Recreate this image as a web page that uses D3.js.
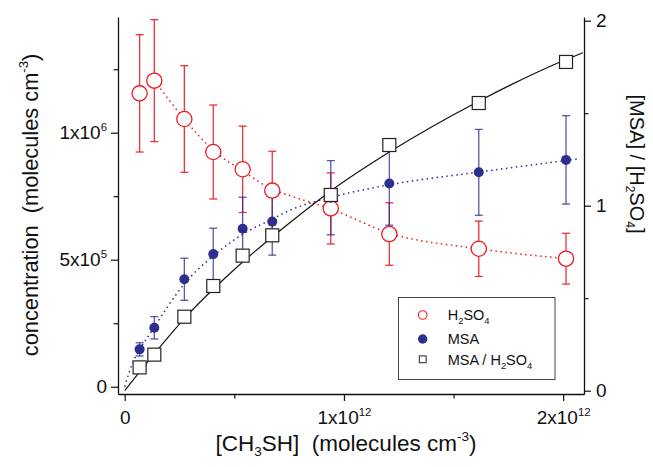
<!DOCTYPE html>
<html><head><meta charset="utf-8">
<script src="https://cdn.jsdelivr.net/npm/d3@7"></script>
<style>
body{margin:0;background:#fff}
svg{display:block}
text{font-family:"Liberation Sans",Arial,Helvetica,sans-serif;fill:#111}
</style>
</head><body>
<svg id="chart" width="653" height="467"></svg>
<script>
// [CH3SH] (molecules cm-3)
const ch3sh = [0.068e12, 0.135e12, 0.272e12, 0.404e12, 0.538e12, 0.673e12, 0.940e12, 1.207e12, 1.615e12, 2.013e12];
// H2SO4 concentration and its uncertainty (molecules cm-3)
const h2so4    = [1.155e6, 1.205e6, 1.054e6, 0.924e6, 0.856e6, 0.772e6, 0.702e6, 0.601e6, 0.543e6, 0.504e6];
const h2so4Err = [0.231e6, 0.240e6, 0.210e6, 0.185e6, 0.170e6, 0.155e6, 0.140e6, 0.123e6, 0.109e6, 0.100e6];
// MSA concentration and its uncertainty (molecules cm-3)
const msa      = [0.147e6, 0.232e6, 0.423e6, 0.522e6, 0.622e6, 0.650e6, 0.744e6, 0.800e6, 0.844e6, 0.893e6];
const msaErr   = [0.026e6, 0.044e6, 0.083e6, 0.102e6, 0.124e6, 0.132e6, 0.146e6, 0.164e6, 0.169e6, 0.174e6];
// [MSA]/[H2SO4]
const ratio    = [0.126, 0.195, 0.400, 0.566, 0.730, 0.840, 1.058, 1.328, 1.555, 1.777];

// fitted curves
const ratioFitX = [0, 0.1e12, 0.272e12, 0.5e12, 0.75e12, 0.94e12, 1.207e12, 1.615e12, 2.013e12, 2.09e12];
const ratioFitY = [0, 0.149, 0.39, 0.655, 0.905, 1.08, 1.29, 1.565, 1.79, 1.827];
const msaFitX   = [0, 0.039e12, 0.068e12, 0.135e12, 0.272e12, 0.404e12, 0.538e12, 0.673e12, 0.754e12, 0.94e12, 1.207e12, 1.615e12, 2.077e12];
const msaFitY   = [0, 0.10e6, 0.145e6, 0.235e6, 0.405e6, 0.515e6, 0.60e6, 0.66e6, 0.695e6, 0.745e6, 0.795e6, 0.845e6, 0.898e6];
const h2so4FitX = [0.135e12, 0.272e12, 0.404e12, 0.538e12, 0.673e12, 0.754e12, 0.94e12, 1.207e12, 1.615e12, 2.013e12];
const h2so4FitY = [1.205e6, 1.054e6, 0.93e6, 0.85e6, 0.777e6, 0.752e6, 0.70e6, 0.605e6, 0.543e6, 0.504e6];

// axis ticks and labels ([base, exponent])
const xTicks = [0, 1e12, 2e12];
const xTickLabels = [["0", ""], ["1x10", "12"], ["2x10", "12"]];
const xMinor = [0.5e12, 1.5e12];
const yTicks = [0, 5e5, 1e6];
const yTickLabels = [["0", ""], ["5x10", "5"], ["1x10", "6"]];
const yMinor = [2.5e5, 7.5e5, 1.25e6];
const rTicks = [0, 1, 2];
const rTickLabels = ["0", "1", "2"];
const rMinor = [0.5, 1.5];

const RED = "#ec1c24", BLUE = "#2d2f8f";

const svg = d3.select("#chart");
const L = 118, R = 584, T = 17, B = 394;

const x = d3.scaleLinear().domain([-0.0306e12, 2.095e12]).range([L, R]);
const y = d3.scaleLinear().domain([-0.0287e6, 1.4555e6]).range([B, T]);
const yr = d3.scaleLinear().domain([-0.0178, 2.020]).range([B, T]);

function styleAxis(g) {
  g.select(".domain").attr("stroke", "#111").attr("stroke-width", 1.3);
  g.selectAll(".tick line").attr("stroke", "#111").attr("stroke-width", 1.2);
  g.selectAll(".tick text").attr("font-size", 19).attr("font-family", null).attr("fill", "#111");
  return g;
}
function minor(axis, tr) {
  const g = svg.append("g").attr("transform", tr)
    .call(axis.tickSize(4.5).tickSizeOuter(0).tickFormat(() => ""));
  g.select(".domain").remove();
  styleAxis(g);
}

// axes
const gx = styleAxis(svg.append("g").attr("transform", `translate(0,${B})`)
  .call(d3.axisBottom(x).tickValues(xTicks).tickSize(7).tickSizeOuter(0).tickPadding(10).tickFormat(() => "")));
minor(d3.axisBottom(x).tickValues(xMinor), `translate(0,${B})`);
const gy = styleAxis(svg.append("g").attr("transform", `translate(${L},0)`)
  .call(d3.axisLeft(y).tickValues(yTicks).tickSize(7).tickSizeOuter(0).tickPadding(4).tickFormat(() => "")));
minor(d3.axisLeft(y).tickValues(yMinor), `translate(${L},0)`);
const gr = styleAxis(svg.append("g").attr("transform", `translate(${R},0)`)
  .call(d3.axisRight(yr).tickValues(rTicks).tickSize(7).tickSizeOuter(0).tickPadding(5).tickFormat((d, i) => rTickLabels[i])));
minor(d3.axisRight(yr).tickValues(rMinor), `translate(${R},0)`);

function powLabel(sel, lab) {
  sel.text(null);
  sel.append("tspan").text(lab[0]);
  if (lab[1]) sel.append("tspan").attr("font-size", "0.6em").attr("dy", "-0.75em").text(lab[1]);
}
gx.selectAll(".tick text").each(function(d, i) { powLabel(d3.select(this), xTickLabels[i]); });
gy.selectAll(".tick text").each(function(d, i) { powLabel(d3.select(this), yTickLabels[i]); });

// axis titles
const xt = svg.append("text").attr("x", 346).attr("y", 451).attr("text-anchor", "middle").attr("font-size", 22.5);
xt.append("tspan").text("[CH");
xt.append("tspan").attr("font-size", "0.6em").attr("dy", "0.35em").text("3");
xt.append("tspan").attr("dy", "-0.21em").text("SH]\u00a0\u00a0(molecules cm");
xt.append("tspan").attr("font-size", "0.6em").attr("dy", "-0.75em").text("-3");
xt.append("tspan").attr("dy", "0.45em").text(")");

const yt = svg.append("text").attr("transform", "translate(38,205) rotate(-90)").attr("text-anchor", "middle").attr("font-size", 21.8);
yt.append("tspan").text("concentration\u00a0\u00a0(molecules cm");
yt.append("tspan").attr("font-size", "0.6em").attr("dy", "-0.75em").text("-3");
yt.append("tspan").attr("dy", "0.45em").text(")");

const rt = svg.append("text").attr("transform", "translate(630,164) rotate(90)").attr("text-anchor", "middle").attr("font-size", 20);
rt.append("tspan").text("[MSA] / [H");
rt.append("tspan").attr("font-size", "0.6em").attr("dy", "0.35em").text("2");
rt.append("tspan").attr("dy", "-0.21em").text("SO");
rt.append("tspan").attr("font-size", "0.6em").attr("dy", "0.35em").text("4");
rt.append("tspan").attr("dy", "-0.21em").text("]");

// fitted curves
const plot = svg.append("g");
const lineL = d3.line().curve(d3.curveMonotoneX);
plot.append("path").attr("d", lineL(h2so4FitX.map((v, i) => [x(v), y(h2so4FitY[i])])))
  .attr("fill", "none").attr("stroke", RED).attr("stroke-width", 1.5).attr("stroke-dasharray", "1.5 3.5");
plot.append("path").attr("d", lineL(msaFitX.map((v, i) => [x(v), y(msaFitY[i])])))
  .attr("fill", "none").attr("stroke", BLUE).attr("stroke-width", 1.5).attr("stroke-dasharray", "1.5 3.5");
plot.append("path").attr("d", lineL(ratioFitX.map((v, i) => [x(v), yr(ratioFitY[i])])))
  .attr("fill", "none").attr("stroke", "#111").attr("stroke-width", 1.2);

// error bars
function errorBars(vals, errs, color, opacity) {
  const g = plot.append("g").attr("stroke", color).attr("stroke-width", 1.3).attr("stroke-opacity", opacity);
  ch3sh.forEach((cx, i) => {
    const px = x(cx), top = y(vals[i] + errs[i]), bot = y(vals[i] - errs[i]);
    g.append("line").attr("x1", px).attr("x2", px).attr("y1", top).attr("y2", bot);
    g.append("line").attr("x1", px - 4).attr("x2", px + 4).attr("y1", top).attr("y2", top);
    g.append("line").attr("x1", px - 4).attr("x2", px + 4).attr("y1", bot).attr("y2", bot);
  });
}
errorBars(h2so4, h2so4Err, RED, 0.9);
errorBars(msa, msaErr, BLUE, 0.8);

// markers
plot.append("g").selectAll("circle").data(ch3sh).join("circle")
  .attr("cx", d => x(d)).attr("cy", (d, i) => y(h2so4[i])).attr("r", 7.6)
  .attr("fill", "#fff").attr("stroke", RED).attr("stroke-width", 1.3);
plot.append("g").selectAll("circle").data(ch3sh).join("circle")
  .attr("cx", d => x(d)).attr("cy", (d, i) => y(msa[i])).attr("r", 5)
  .attr("fill", BLUE);
plot.append("g").selectAll("rect").data(ch3sh).join("rect")
  .attr("x", d => x(d) - 6.5).attr("y", (d, i) => yr(ratio[i]) - 6.5).attr("width", 13).attr("height", 13)
  .attr("fill", "#fff").attr("stroke", "#222").attr("stroke-width", 1.2);

// legend
const lg = svg.append("g");
lg.append("rect").attr("x", 398.5).attr("y", 297.5).attr("width", 156.5).attr("height", 82)
  .attr("fill", "#fff").attr("stroke", "#444").attr("stroke-width", 1);
const lx = 422.7, tx = 447.7;
lg.append("circle").attr("cx", lx).attr("cy", 315).attr("r", 4.3).attr("fill", "#fff").attr("stroke", RED).attr("stroke-width", 1.1);
lg.append("circle").attr("cx", lx).attr("cy", 339).attr("r", 4.7).attr("fill", BLUE);
lg.append("rect").attr("x", lx - 3.4).attr("y", 359.3 - 3.4).attr("width", 6.8).attr("height", 6.8).attr("fill", "#fff").attr("stroke", "#222").attr("stroke-width", 1);
function legendText(yy, parts) {
  const t = lg.append("text").attr("x", tx).attr("y", yy).attr("dy", "0.36em").attr("font-size", 14.5);
  let sub = false;
  parts.forEach(p => {
    if (p.sub) { t.append("tspan").attr("font-size", "0.65em").attr("dy", "0.45em").text(p.t); sub = true; }
    else { t.append("tspan").attr("dy", sub ? "-0.29em" : null).text(p.t); sub = false; }
  });
}
legendText(315, [{t:"H"},{t:"2",sub:true},{t:"SO"},{t:"4",sub:true}]);
legendText(339, [{t:"MSA"}]);
legendText(359.3, [{t:"MSA / H"},{t:"2",sub:true},{t:"SO"},{t:"4",sub:true}]);
</script>
</body></html>
